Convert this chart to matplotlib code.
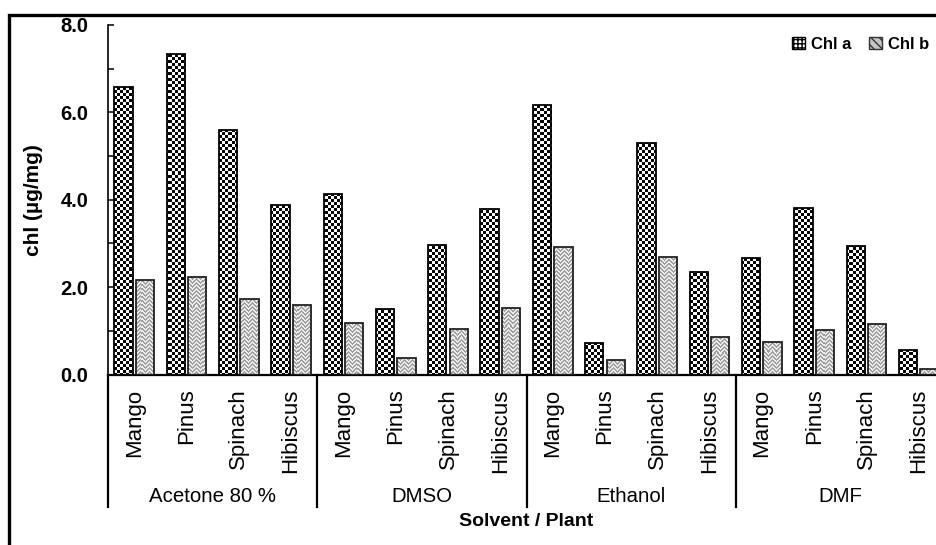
import numpy as np
import matplotlib
matplotlib.use("Agg")
import matplotlib.pyplot as plt
from matplotlib.patches import Patch, Rectangle
from matplotlib.transforms import blended_transform_factory

plt.rcParams['font.family'] = ['Liberation Sans', 'DejaVu Sans']

solvents = ["Acetone 80 %", "DMSO", "Ethanol", "DMF"]
plants = ["Mango", "Pinus", "Spinach", "Hibiscus"]
chl_a = [6.57, 7.34, 5.60, 3.89,
         4.14, 1.51, 2.96, 3.78,
         6.16, 0.72, 5.30, 2.34,
         2.66, 3.81, 2.95, 0.57]
chl_b = [2.17, 2.23, 1.72, 1.58,
         1.19, 0.38, 1.04, 1.52,
         2.91, 0.34, 2.70, 0.85,
         0.74, 1.03, 1.16, 0.12]
yticks = [0, 2, 4, 6, 8]
ytick_labels = ["0.0", "2.0", "4.0", "6.0", "8.0"]

W, H = 937, 545
fig = plt.figure(figsize=(W / 100, H / 100), dpi=100)
ax_l, ax_r, ax_t, ax_b = 108, 945, 25, 374.5
ax = fig.add_axes([ax_l / W, 1 - ax_b / H, (ax_r - ax_l) / W, (ax_b - ax_t) / H])

n = len(chl_a)
x = np.arange(n)
bw = 0.35
xlim = (-0.5, n - 0.5)
ylim = (0, 8)

bars_a = ax.bar(x - 0.205, chl_a, bw, facecolor='none', edgecolor='black', linewidth=1.3, zorder=3)
bars_b = ax.bar(x + 0.205, chl_b, bw, facecolor='none', edgecolor='#222222', linewidth=1.3, zorder=3)

# textures
pw, ph = int(ax_r - ax_l), int(ax_b - ax_t)
r, c = np.indices((ph, pw))
checker = ((r // 3 + c // 3) % 2).astype(float)
checker_rgb = np.dstack([checker] * 3)
tri = np.abs((c % 8) - 4)
zig = (((r + tri) // 2) % 2 == 0)
zig_val = np.where(zig, 0.93, 0.62)
zig_rgb = np.dstack([zig_val] * 3)
extent = (xlim[0], xlim[1], ylim[0], ylim[1])
for bar in bars_a:
    im = ax.imshow(checker_rgb, extent=extent, origin='upper', aspect='auto',
                   interpolation='nearest', zorder=2)
    im.set_clip_path(bar)
for bar in bars_b:
    im = ax.imshow(zig_rgb, extent=extent, origin='upper', aspect='auto',
                   interpolation='nearest', zorder=2)
    im.set_clip_path(bar)

ax.set_xlim(*xlim)
ax.set_ylim(*ylim)

for s in ['top', 'right']:
    ax.spines[s].set_visible(False)
ax.spines['left'].set_linewidth(1.2)
ax.spines['bottom'].set_linewidth(1.6)

ax.set_yticks(yticks)
ax.set_yticklabels(ytick_labels, fontsize=14.5, fontweight='bold')
ax.set_yticks([1, 3, 5, 7], minor=True)
ax.tick_params(axis='y', which='both', direction='in', length=4, width=1.1, pad=14)

ax.set_xticks(x)
ax.set_xticklabels(plants * len(solvents), rotation=90, fontsize=16, va='top', ha='center')
ax.tick_params(axis='x', length=0, pad=10)

ax.set_ylabel("chl (µg/mg)", fontsize=15, fontweight='bold')
ax.yaxis.set_label_coords(-0.078, 0.5)

trans = blended_transform_factory(ax.transData, ax.transAxes)
for g in range(len(solvents) + 1):
    xv = g * len(plants) - 0.5
    ax.plot([xv, xv], [0, -0.378], transform=trans, color='black', linewidth=1.6,
            clip_on=False, zorder=4)
for g, name in enumerate(solvents):
    xc = g * len(plants) + (len(plants) - 1) / 2
    ax.text(xc, -0.348, name, transform=trans, ha='center', va='center', fontsize=14.7)

ax.text(0.5, -0.421, "Solvent / Plant", transform=ax.transAxes, ha='center', va='center',
        fontsize=14, fontweight='bold')

handles = [Patch(facecolor='white', edgecolor='black', hatch='++++', label='Chl a'),
           Patch(facecolor='#c4c4c4', edgecolor='#333333', hatch='\\\\\\\\', label='Chl b')]
leg = fig.legend(handles=handles, loc='upper right', bbox_to_anchor=(929 / W, 1 - 37 / H),
                 bbox_transform=fig.transFigure, ncol=2, frameon=False, borderpad=0,
                 borderaxespad=0, handlelength=0.75, handleheight=0.75, handletextpad=0.35,
                 columnspacing=1.1, prop={'weight': 'bold', 'size': 12})

# outer frame (partially visible)
frame = Rectangle((9.5 / W, -0.1), 1.2, 1.1 - 14.5 / H, transform=fig.transFigure,
                  fill=False, edgecolor='black', linewidth=2.4, clip_on=False)
fig.patches.append(frame)

fig.savefig("out.png", dpi=100)
